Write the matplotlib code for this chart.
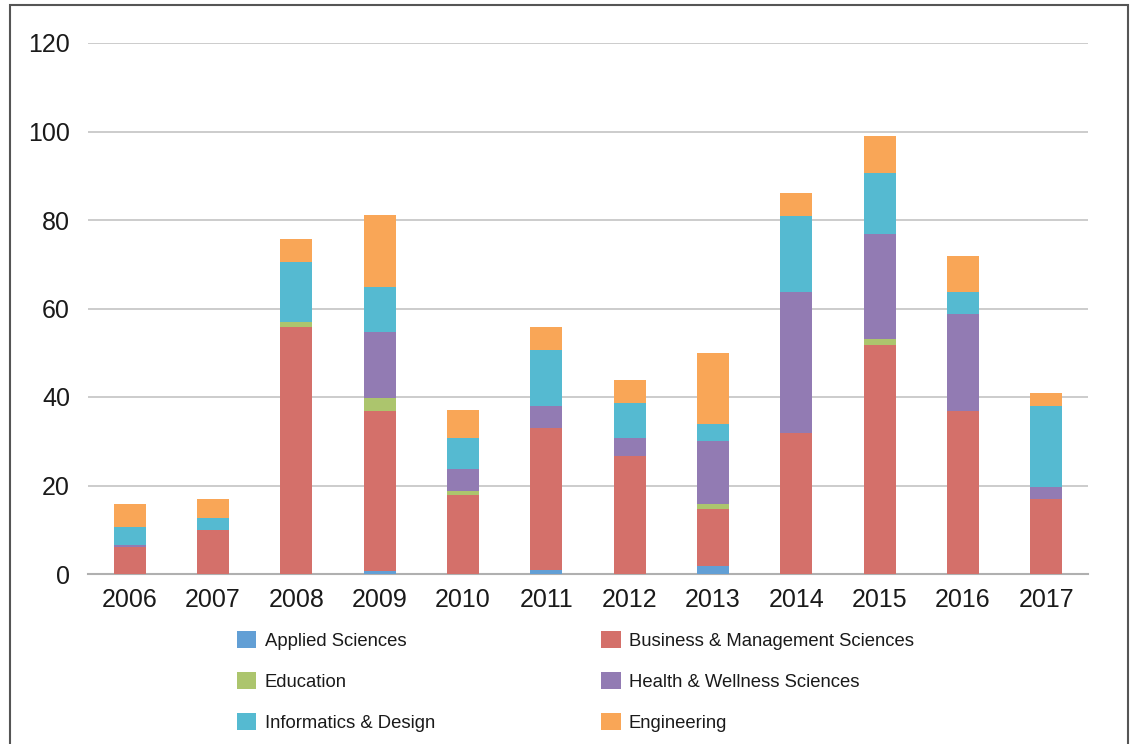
import matplotlib
matplotlib.use("Agg")
import matplotlib.pyplot as plt
from matplotlib.patches import Rectangle
from matplotlib import font_manager
import numpy as np

plt.rcParams['font.family'] = ['Liberation Sans', 'DejaVu Sans']

names = {f.name for f in font_manager.fontManager.ttflist}
if 'Liberation Sans Narrow' in names:
    tick_family, tick_size = 'Liberation Sans Narrow', 21
else:
    tick_family, tick_size = 'Liberation Sans', 18

years = ['2006', '2007', '2008', '2009', '2010', '2011', '2012', '2013', '2014', '2015', '2016', '2017']
applied = [0, 0, 0, 0.7, 0, 1.0, 0, 1.9, 0, 0, 0, 0]
business = [6.0, 10.0, 55.8, 36.1, 17.9, 32.1, 26.7, 12.8, 31.9, 51.8, 36.8, 16.9]
education = [0, 0, 1.2, 3.0, 0.9, 0, 0, 1.1, 0, 1.3, 0, 0]
health = [0.6, 0, 0, 14.9, 4.9, 4.9, 4.0, 14.3, 31.8, 23.7, 22.0, 2.8]
informatics = [4.0, 2.7, 13.5, 10.2, 7.0, 12.6, 7.9, 3.9, 17.2, 13.8, 4.9, 18.3]
engineering = [5.3, 4.3, 5.2, 16.2, 6.4, 5.2, 5.2, 15.9, 5.2, 8.4, 8.2, 2.9]

series = [
    ('Applied Sciences', applied, '#629fd5'),
    ('Business & Management Sciences', business, '#d4706a'),
    ('Education', education, '#acc56d'),
    ('Health & Wellness Sciences', health, '#927bb3'),
    ('Informatics & Design', informatics, '#55bad1'),
    ('Engineering', engineering, '#f9a657'),
]

fig = plt.figure(figsize=(11.33, 7.44), dpi=100)
ax = fig.add_axes([88/1133, 1-574/744, 1000/1133, 531/744])

x = np.arange(len(years))
bottom = np.zeros(len(years))
handles = {}
for name, vals, col in series:
    v = np.array(vals, dtype=float)
    b = ax.bar(x, v, width=0.385, bottom=bottom, color=col, label=name, zorder=3)
    handles[name] = b
    bottom += v

ax.set_xlim(-0.5, len(years) - 0.5)
ax.set_ylim(0, 120)
ax.set_yticks([0, 20, 40, 60, 80, 100, 120])
ax.set_xticks(x)
ax.set_xticklabels(years)
ax.tick_params(axis='both', length=0, labelsize=tick_size, colors='#1a1a1a')
ax.tick_params(axis='y', pad=13)
ax.tick_params(axis='x', pad=10)
for lbl in ax.get_xticklabels() + ax.get_yticklabels():
    lbl.set_family(tick_family)
ax.yaxis.grid(True, color='#c3c3c3', linewidth=1.2, zorder=0)
ax.set_axisbelow(True)
for s in ['top', 'left', 'right']:
    ax.spines[s].set_visible(False)
ax.spines['bottom'].set_color('#b0b0b0')
ax.spines['bottom'].set_linewidth(1.5)

order = ['Applied Sciences', 'Education', 'Informatics & Design',
         'Business & Management Sciences', 'Health & Wellness Sciences', 'Engineering']
leg = fig.legend([handles[n] for n in order], order, ncol=2,
                 loc='upper left', bbox_to_anchor=(237/1133, 1-631/744),
                 frameon=False, fontsize=13.3, handlelength=1.05, handleheight=1.05,
                 handletextpad=0.45, labelspacing=1.2, columnspacing=9.0,
                 borderaxespad=0, borderpad=0)
for t in leg.get_texts():
    t.set_color('#1a1a1a')

border = Rectangle((10/1133, -0.1), 1118/1133, 1.1 - 5/744, transform=fig.transFigure,
                   fill=False, edgecolor='#555555', linewidth=1.5)
fig.patches.append(border)

fig.savefig('out.png', dpi=100)
